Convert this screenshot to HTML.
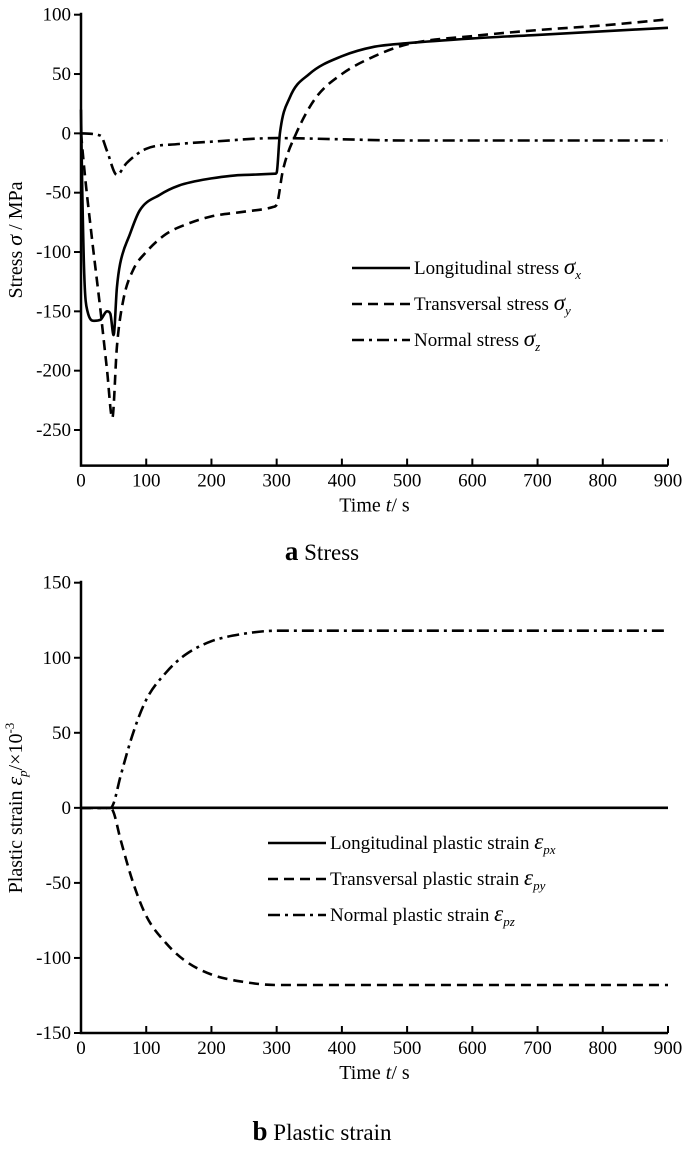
<!DOCTYPE html>
<html><head><meta charset="utf-8"><style>
body{margin:0;background:#fff;}
svg text{font-family:"Liberation Serif",serif;fill:#000;}
</style></head><body>
<svg id="c" width="685" height="1153" xmlns="http://www.w3.org/2000/svg"></svg>
<script>
const tTicks=[0,100,200,300,400,500,600,700,800,900];
const stressTicks=[100,50,0,-50,-100,-150,-200,-250];
const strainTicks=[150,100,50,0,-50,-100,-150];
const sxT=[0,2,5,10,20,30,40,45,50,55,60,75,90,120,150,200,250,298,300,305,320,350,400,450,500,600,700,800,900];
const sxV=[20,-50,-120,-150,-158,-157,-150,-152,-170,-130,-110,-85,-65,-52,-44,-38,-35,-34,-33,0,30,50,65,73,76,80,83,86,89];
const syT=[0,5,15,30,40,48,55,65,80,100,130,160,200,250,295,300,310,330,360,400,450,500,600,700,800,900];
const syV=[0,-30,-80,-150,-200,-240,-180,-140,-115,-100,-85,-77,-70,-66,-62,-60,-30,0,30,50,65,75,82,87,91,96];
const szT=[0,30,40,55,70,100,150,200,300,400,500,900];
const szV=[0,-2,-15,-35,-25,-13,-9,-7,-4,-5,-6,-6];
const pxT=[0,900];
const pxV=[0,0];
const pyT=[0,45,50,60,80,100,130,160,200,250,300,900];
const pyV=[0,0,-3,-20,-50,-72,-90,-102,-111,-116,-118,-118];
const pzT=[0,45,50,60,80,100,130,160,200,250,300,900];
const pzV=[0,0,3,20,50,72,90,102,111,116,118,118];

const svg=document.getElementById('c');
const NS='http://www.w3.org/2000/svg';
function el(tag,attrs,parent){const e=document.createElementNS(NS,tag);for(const k in attrs)e.setAttribute(k,attrs[k]);(parent||svg).appendChild(e);return e;}
const X0=81,X1=668;
const xs=t=>X0+(X1-X0)*t/900;
const DASH={solid:'',dash:'10,6',dashdot:'12,5,3,5'};

function monotonePath(P){
  const n=P.length;if(n<3)return P.map((p,i)=>(i?'L':'M')+p[0]+','+p[1]).join('');
  const d=[],m=[];
  for(let i=0;i<n-1;i++)d.push((P[i+1][1]-P[i][1])/(P[i+1][0]-P[i][0]));
  m[0]=d[0];m[n-1]=d[n-2];
  for(let i=1;i<n-1;i++){m[i]=(d[i-1]*d[i]<=0)?0:(d[i-1]+d[i])/2;}
  for(let i=0;i<n-1;i++){if(d[i]===0){m[i]=0;m[i+1]=0;continue;}const a=m[i]/d[i],b=m[i+1]/d[i],s=a*a+b*b;if(s>9){const t=3/Math.sqrt(s);m[i]=t*a*d[i];m[i+1]=t*b*d[i];}}
  let s='M'+P[0][0].toFixed(1)+','+P[0][1].toFixed(1);
  for(let i=0;i<n-1;i++){const h=(P[i+1][0]-P[i][0])/3;
    s+='C'+(P[i][0]+h).toFixed(1)+','+(P[i][1]+m[i]*h).toFixed(1)+' '+(P[i+1][0]-h).toFixed(1)+','+(P[i+1][1]-m[i+1]*h).toFixed(1)+' '+P[i+1][0].toFixed(1)+','+P[i+1][1].toFixed(1);}
  return s;
}

function panel(name,yTop,vTop,yBot,vBot,yTicks,series,legend,legX,legY,title,titleY){
  const g=el('g',{});
  
  
  const ys=v=>yTop+(yBot-yTop)*(vTop-v)/(vTop-vBot);
  const ax=el('path',{d:`M${X0},${ys(vTop)-2}V${ys(vBot)}H${X1}`,stroke:'#000','stroke-width':2.5,fill:'none'},g);
  
  
  yTicks.forEach(v=>{
    el('line',{x1:X0-7,x2:X0,y1:ys(v),y2:ys(v),stroke:'#000','stroke-width':2},g);
    const t=el('text',{x:X0-10,y:ys(v)+6,'text-anchor':'end','font-size':19},g);t.textContent=v;
    
    
  });
  const yb=ys(vBot);
  tTicks.forEach(v=>{
    el('line',{x1:xs(v),x2:xs(v),y1:yb,y2:yb-7,stroke:'#000','stroke-width':2},g);
    const t=el('text',{x:xs(v),y:yb+21,'text-anchor':'middle','font-size':19},g);t.textContent=v;
    
    
  });
  series.forEach(s=>{
    const P=s.t.map((t,i)=>[xs(t),ys(s.v[i])]);
    const p=el('path',{d:monotonePath(P),stroke:'#000','stroke-width':2.6,fill:'none','stroke-dasharray':DASH[s.style]},g);
    
    
  });
  legend.forEach((l,i)=>{
    const y=legY+i*36;
    el('line',{x1:legX,x2:legX+58,y1:y,y2:y,stroke:'#000','stroke-width':2.6,'stroke-dasharray':DASH[l.style]},g);
    const t=el('text',{x:legX+62,y:y+6,'font-size':19},g);
    t.innerHTML=l.html;
    
    
  });
  const xt=el('text',{x:(X0+X1)/2,y:yb+46,'text-anchor':'middle','font-size':20},g);
  xt.innerHTML='Time  <tspan font-style="italic">t</tspan>/ s';
  
  
  const tt=el('text',{x:322,y:titleY,'text-anchor':'middle','font-size':23},g);
  tt.innerHTML=title;
  
  
  return ys;
}
panel('stress-chart',14.7,100,465.6,-280,stressTicks,
 [{t:sxT,v:sxV,style:'solid',name:'line-sigma-x'},{t:syT,v:syV,style:'dash',name:'line-sigma-y'},{t:szT,v:szV,style:'dashdot',name:'line-sigma-z'}],
 [{style:'solid',html:'Longitudinal stress  <tspan font-style="italic" font-size="23">σ</tspan><tspan font-style="italic" font-size="13" dy="5">x</tspan>'},
  {style:'dash',html:'Transversal stress  <tspan font-style="italic" font-size="23">σ</tspan><tspan font-style="italic" font-size="13" dy="5">y</tspan>'},
  {style:'dashdot',html:'Normal stress  <tspan font-style="italic" font-size="23">σ</tspan><tspan font-style="italic" font-size="13" dy="5">z</tspan>'}],
 352,268,'<tspan font-weight="bold" font-size="27">a</tspan> Stress',560);
panel('strain-chart',582.7,150,1033,-150,strainTicks,
 [{t:pxT,v:pxV,style:'solid',name:'line-eps-px'},{t:pyT,v:pyV,style:'dash',name:'line-eps-py'},{t:pzT,v:pzV,style:'dashdot',name:'line-eps-pz'}],
 [{style:'solid',html:'Longitudinal plastic strain  <tspan font-style="italic" font-size="23">ε</tspan><tspan font-style="italic" font-size="13" dy="5">px</tspan>'},
  {style:'dash',html:'Transversal plastic strain  <tspan font-style="italic" font-size="23">ε</tspan><tspan font-style="italic" font-size="13" dy="5">py</tspan>'},
  {style:'dashdot',html:'Normal plastic strain  <tspan font-style="italic" font-size="23">ε</tspan><tspan font-style="italic" font-size="13" dy="5">pz</tspan>'}],
 268,843,'<tspan font-weight="bold" font-size="27">b</tspan> Plastic strain',1140);
const ya=el('text',{transform:'translate(22,240) rotate(-90)','text-anchor':'middle','font-size':20});
ya.innerHTML='Stress <tspan font-style="italic" font-size="22">σ</tspan> / MPa';


const yb2=el('text',{transform:'translate(22,808) rotate(-90)','text-anchor':'middle','font-size':20});
yb2.innerHTML='Plastic strain <tspan font-style="italic" font-size="22">ε</tspan><tspan font-style="italic" font-size="13" dy="5">p</tspan><tspan dy="-5">/×10</tspan><tspan font-size="13" dy="-8">-3</tspan>';


</script>
</body></html>
